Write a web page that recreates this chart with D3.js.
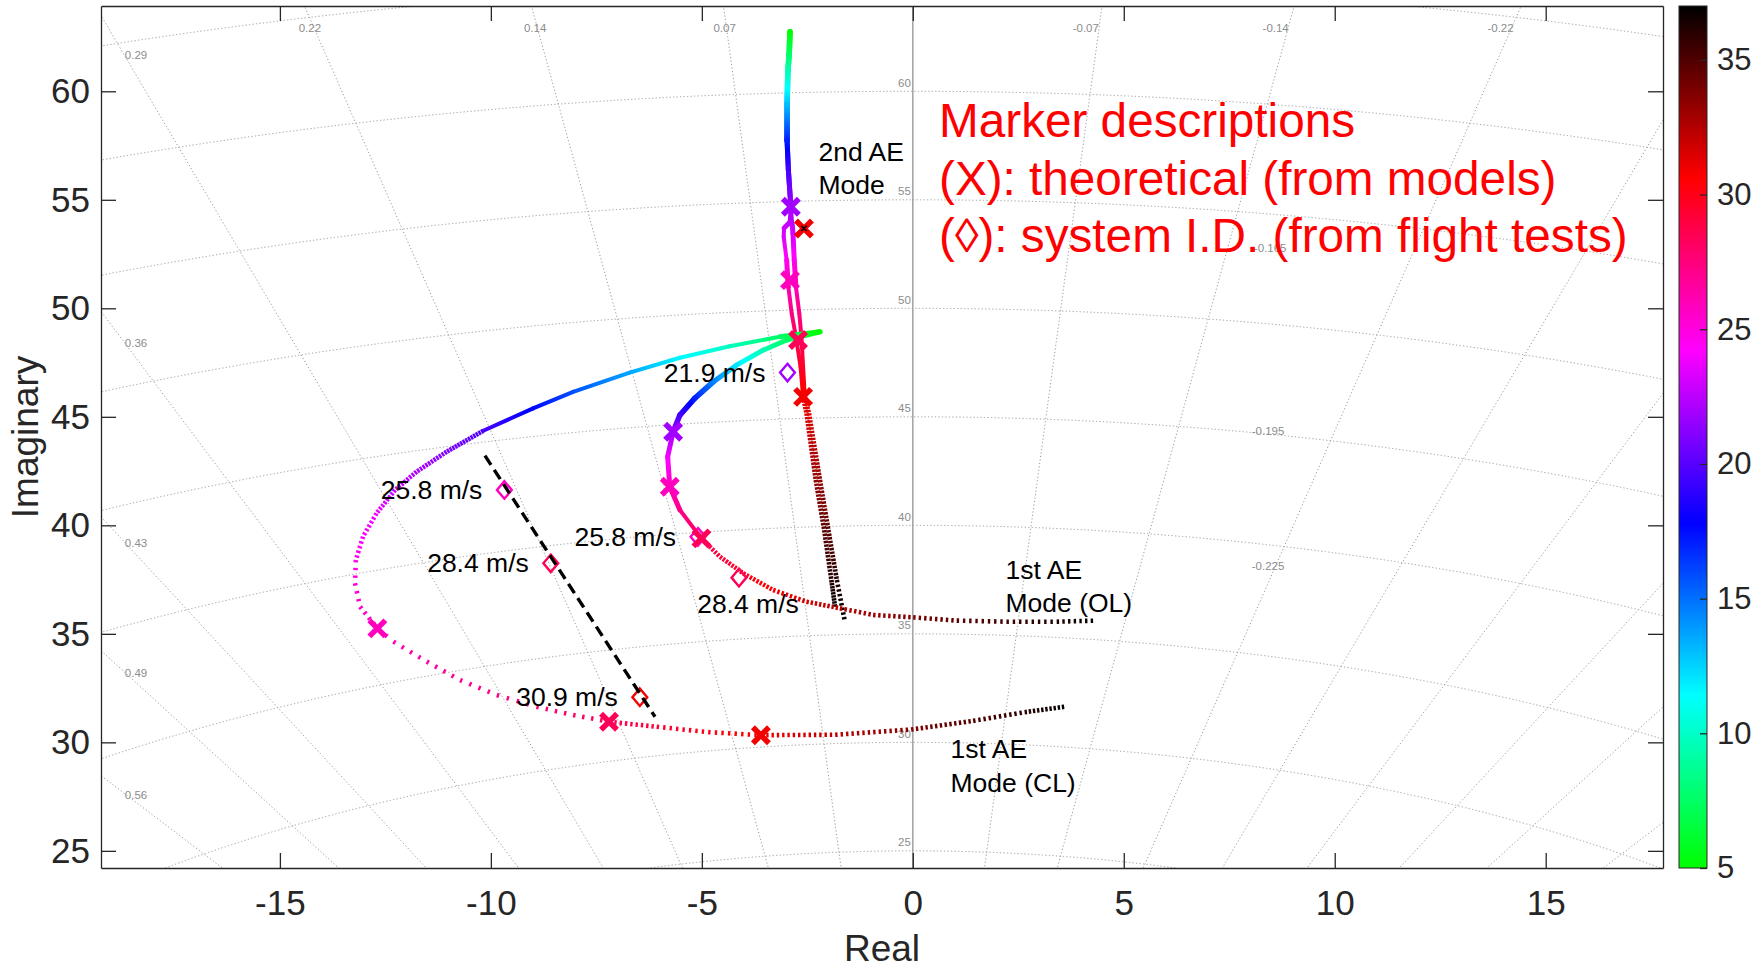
<!DOCTYPE html>
<html>
<head>
<meta charset="utf-8">
<script src="https://cdn.jsdelivr.net/npm/d3@7"></script>
<style>
  html, body { margin: 0; padding: 0; background: #fff; }
  svg { display: block; font-family: "Liberation Sans", Arial, Helvetica, sans-serif; }
</style>
</head>
<body>
<svg id="chart" width="1763" height="969"></svg>
<script>
// ---------------- data ----------------
const realTicks  = [-15, -10, -5, 0, 5, 10, 15];
const imagTicks  = [25, 30, 35, 40, 45, 50, 55, 60];
const speedTicks = [5, 10, 15, 20, 25, 30, 35];
const speedRange = [5, 37];
const sweepStep  = 0.1;   // airspeed increment between computed roots (m/s)

// colormap control points (airspeed -> colour)
const cmapSpeeds = [5, 11.4, 17.8, 24.2, 30.6, 37];
const cmapColors = ["#00ff00", "#00ffff", "#0000ff", "#ff00ff", "#ff0000", "#000000"];

// s-plane grid
const dampingRatios = [0.07, 0.14, 0.22, 0.29, 0.36, 0.43, 0.49, 0.56];
const naturalFreqs  = [25, 30, 35, 40, 45, 50, 55, 60, 65];
const freqLabels    = [25, 30, 35, 40, 45, 50, 55, 60];
const dampLabelText = ["0.29", "0.36", "0.43", "0.49", "0.56", "0.22", "0.14", "0.07",
                       "-0.07", "-0.14", "-0.22", "-0.165", "-0.195", "-0.225"];
const dampLabelRe   = [-18.41, -18.41, -18.41, -18.41, -18.41, -14.29, -8.95, -4.46,
                       4.10, 8.60, 13.93, 8.47, 8.42, 8.42];
const dampLabelIm   = [61.68, 48.42, 39.19, 33.21, 27.56, 62.93, 62.93, 62.93,
                       62.93, 62.93, 62.93, 52.78, 44.35, 38.15];

// root loci vs airspeed: [real, imag, airspeed m/s]
const mode2OL = [
  [-2.91, 62.74, 5.0], [-2.93, 61.70, 7.5], [-2.96, 60.97, 9.5], [-2.98, 59.40, 13.0],
  [-2.98, 57.75, 17.0], [-2.95, 56.40, 19.5], [-2.89, 54.68, 21.9], [-2.86, 53.90, 22.6],
  [-2.84, 53.45, 23.1], [-2.81, 52.22, 24.5], [-2.77, 50.99, 26.0], [-2.69, 49.76, 27.3],
  [-2.64, 48.69, 28.4], [-2.60, 47.30, 29.6], [-2.56, 45.92, 30.9], [-2.46, 45.16, 31.4],
  [-2.20, 42.09, 33.3], [-2.00, 39.78, 34.7], [-1.80, 37.48, 36.1], [-1.61, 35.56, 37.0]
];
const mode2CL = [
  [-2.91, 62.74, 5.0], [-2.93, 61.70, 7.5], [-2.96, 60.97, 9.5], [-2.98, 59.40, 13.0],
  [-2.98, 57.75, 17.0], [-2.95, 56.40, 19.5], [-2.89, 54.68, 21.9], [-2.92, 53.95, 22.6],
  [-3.05, 53.70, 23.0], [-3.06, 53.30, 23.4], [-2.99, 52.22, 24.5], [-2.95, 50.99, 26.0],
  [-2.87, 49.76, 27.3], [-2.77, 48.69, 28.4], [-2.66, 47.30, 29.6], [-2.60, 45.92, 30.9],
  [-2.52, 45.16, 31.4], [-2.30, 42.09, 33.3], [-2.10, 39.78, 34.7], [-1.93, 37.48, 36.1],
  [-1.84, 36.22, 37.0]
];
const mode1OL = [
  [-2.20, 48.92, 5.0], [-2.99, 48.54, 7.5], [-3.55, 48.07, 9.5], [-4.18, 47.38, 12.0],
  [-4.73, 46.61, 14.5], [-5.17, 45.85, 17.0], [-5.52, 45.08, 19.5], [-5.68, 44.31, 21.9],
  [-5.81, 43.16, 23.9], [-5.76, 41.78, 25.8], [-5.52, 40.71, 27.1], [-5.01, 39.40, 28.4],
  [-4.57, 38.55, 29.1], [-4.02, 37.79, 29.9], [-3.31, 37.02, 30.8], [-2.52, 36.48, 31.6],
  [-1.73, 36.18, 32.4], [-0.94, 35.87, 33.1], [0.01, 35.76, 33.9], [1.04, 35.61, 34.7],
  [2.22, 35.56, 35.5], [3.41, 35.56, 36.3], [4.35, 35.61, 37.0]
];
const mode1CL = [
  [-2.20, 48.92, 5.0], [-3.15, 48.69, 7.5], [-4.34, 48.25, 9.8], [-5.52, 47.72, 11.6],
  [-6.71, 47.04, 13.6], [-8.05, 46.15, 15.8], [-9.00, 45.39, 17.6], [-10.18, 44.36, 19.6],
  [-11.05, 43.39, 21.0], [-11.76, 42.47, 22.1], [-12.27, 41.63, 22.9], [-12.71, 40.55, 23.7],
  [-13.03, 39.48, 24.3], [-13.20, 38.40, 24.8], [-13.22, 37.33, 25.1], [-13.10, 36.25, 25.4],
  [-12.69, 35.25, 25.8], [-12.31, 34.64, 26.0], [-11.52, 33.72, 26.4], [-10.73, 32.87, 26.8],
  [-9.86, 32.18, 27.2], [-8.92, 31.64, 27.6], [-8.05, 31.26, 28.0], [-7.20, 30.95, 28.4],
  [-6.07, 30.72, 29.3], [-4.85, 30.47, 30.1], [-3.60, 30.33, 30.9], [-1.84, 30.35, 32.3],
  [-0.04, 30.59, 33.7], [1.43, 30.99, 35.0], [2.65, 31.39, 36.0], [3.63, 31.65, 37.0]
];
const strayRoot = [[-2.58, 53.68, 37.0]];

// theoretical (model) roots at the test airspeeds
const theoryRe    = [-2.89, -2.91, -2.72, -2.60, -2.58, -5.68, -5.76, -5.01, -12.69, -7.20, -3.60];
const theoryIm    = [54.68, 51.30, 48.54, 45.92, 53.68, 44.31, 41.78, 39.40, 35.25, 30.95, 30.33];
const theorySpeed = [21.9, 25.8, 28.4, 30.9, 30.9, 21.9, 25.8, 28.4, 25.8, 28.4, 30.9];

// identified roots from flight tests
const flightRe     = [-2.97, -9.68, -8.58, -6.47, -5.09, -4.12];
const flightIm     = [47.04, 41.63, 38.25, 32.08, 39.47, 37.59];
const flightSpeed  = [21.9, 25.8, 28.4, 30.9, 25.8, 28.4];
const flightLabels = ["21.9 m/s", "25.8 m/s", "28.4 m/s", "30.9 m/s", "25.8 m/s", "28.4 m/s"];
const flightLabelSide = ["left", "left", "left", "left", "left", "below"];

// trend through the closed-loop flight-test roots
const trendRe = [-10.14, -6.11];
const trendIm = [43.21, 31.18];

// ---------------- layout ----------------
const svg = d3.select("#chart");
const plot = { left: 101, right: 1663, top: 6, bottom: 868 };
const cbar = { left: 1679, right: 1707 };
const ink = "#262626";

const x = d3.scaleLinear().domain([-19.24, 17.78]).range([plot.left, plot.right]);
const y = d3.scaleLinear().domain([24.21, 63.93]).range([plot.bottom, plot.top]);
const cmap = d3.scaleLinear().domain(cmapSpeeds).range(cmapColors).interpolate(d3.interpolateRgb).clamp(true);

const defs = svg.append("defs");
defs.append("clipPath").attr("id", "plotClip").append("rect")
  .attr("x", plot.left).attr("y", plot.top)
  .attr("width", plot.right - plot.left).attr("height", plot.bottom - plot.top);

// ---------------- grid ----------------
const grid = svg.append("g").attr("clip-path", "url(#plotClip)");
const gridStyle = sel => sel.attr("fill", "none").attr("stroke", "#9a9a9a")
  .attr("stroke-width", 1).attr("stroke-dasharray", "1.2,2.3");

naturalFreqs.forEach(wn => {
  grid.append("ellipse")
    .attr("cx", x(0)).attr("cy", y(0))
    .attr("rx", x(wn) - x(0)).attr("ry", y(0) - y(wn))
    .call(gridStyle);
});
dampingRatios.forEach(z => {
  const k = z / Math.sqrt(1 - z * z);
  [-1, 1].forEach(side => {
    grid.append("line")
      .attr("x1", x(0)).attr("y1", y(0))
      .attr("x2", x(side * k * 200)).attr("y2", y(200))
      .call(gridStyle);
  });
});
// imaginary axis
grid.append("line")
  .attr("x1", x(0)).attr("x2", x(0)).attr("y1", plot.top).attr("y2", plot.bottom)
  .attr("stroke", "#a6a6a6").attr("stroke-width", 1.6);

// grid labels
const gridLabels = svg.append("g").attr("font-size", 11.5).attr("fill", "#8c8c8c");
dampLabelText.forEach((t, i) => {
  gridLabels.append("text")
    .attr("x", x(dampLabelRe[i])).attr("y", y(dampLabelIm[i]))
    .attr("dy", "0.35em").attr("text-anchor", "middle").text(t);
});
freqLabels.forEach(wn => {
  gridLabels.append("text")
    .attr("x", x(0) - 2).attr("y", y(wn) - 4.5)
    .attr("text-anchor", "end").text(wn);
});

// ---------------- root loci ----------------
const loci = svg.append("g").attr("clip-path", "url(#plotClip)");
let gradId = 0;
function drawBranch(pts) {
  for (let i = 0; i < pts.length - 1; i++) {
    const [r1, m1, v1] = pts[i], [r2, m2, v2] = pts[i + 1];
    const x1 = x(r1), y1 = y(m1), x2 = x(r2), y2 = y(m2);
    const len = Math.hypot(x2 - x1, y2 - y1);
    const spacing = len / Math.max(1, Math.abs(v2 - v1) / sweepStep);
    // colour gradient along the segment following the airspeed colormap
    const id = "seg" + (gradId++);
    const grad = defs.append("linearGradient").attr("id", id)
      .attr("gradientUnits", "userSpaceOnUse")
      .attr("x1", x1).attr("y1", y1).attr("x2", x2).attr("y2", y2);
    const stops = [0];
    cmapSpeeds.forEach(s => { if (s > Math.min(v1, v2) && s < Math.max(v1, v2)) stops.push((s - v1) / (v2 - v1)); });
    stops.push(1);
    stops.sort((a, b) => a - b).forEach(f => {
      grad.append("stop").attr("offset", f).attr("stop-color", cmap(v1 + f * (v2 - v1)));
    });
    const seg = loci.append("line")
      .attr("x1", x1).attr("y1", y1).attr("x2", x2).attr("y2", y2)
      .attr("stroke", `url(#${id})`);
    if (spacing < 3) {
      // closely packed roots merge into a solid band
      const w = spacing < 1.0 ? 5.5 : spacing < 2.0 ? 5 : 4;
      seg.attr("stroke-width", w).attr("stroke-linecap", "round");
    } else {
      seg.attr("stroke-width", 4.6).attr("stroke-linecap", "butt")
        .attr("stroke-dasharray", `2.4,${(spacing - 2.4).toFixed(2)}`);
    }
  }
}
[mode2CL, mode2OL, mode1OL, mode1CL].forEach(drawBranch);

// ---------------- markers ----------------
const marks = svg.append("g").attr("clip-path", "url(#plotClip)");
const diamond = (hw, hh) => `M0,${-hh}L${hw},0L0,${hh}L${-hw},0Z`;
const cross = s => `M${-s},${-s}L${s},${s}M${-s},${s}L${s},${-s}`;

flightRe.forEach((re, i) => {
  marks.append("path")
    .attr("transform", `translate(${x(re)},${y(flightIm[i])})`)
    .attr("d", diamond(7.4, 8.8))
    .attr("fill", "none").attr("stroke", cmap(flightSpeed[i])).attr("stroke-width", 2.4);
});

marks.append("line")
  .attr("x1", x(trendRe[0])).attr("y1", y(trendIm[0]))
  .attr("x2", x(trendRe[1])).attr("y2", y(trendIm[1]))
  .attr("stroke", "#000").attr("stroke-width", 3.4).attr("stroke-dasharray", "11,6");

theoryRe.forEach((re, i) => {
  marks.append("path")
    .attr("transform", `translate(${x(re)},${y(theoryIm[i])})`)
    .attr("d", cross(8))
    .attr("fill", "none").attr("stroke", cmap(theorySpeed[i])).attr("stroke-width", 5.5);
});
strayRoot.forEach(([re, im, v]) => {
  marks.append("path")
    .attr("transform", `translate(${x(re)},${y(im)})`)
    .attr("d", cross(2.6))
    .attr("fill", "none").attr("stroke", cmap(v)).attr("stroke-width", 1.4);
});

// ---------------- text annotations ----------------
const notes = svg.append("g").attr("font-size", 26.5).attr("fill", "#000");
flightLabels.forEach((t, i) => {
  const px = x(flightRe[i]), py = y(flightIm[i]);
  if (flightLabelSide[i] === "left") {
    notes.append("text").attr("x", px - 22).attr("y", py + 9).attr("text-anchor", "end").text(t);
  } else {
    notes.append("text").attr("x", px + 9).attr("y", py + 35).attr("text-anchor", "middle").text(t);
  }
});

function multiline(g, re, im, lines, step) {
  const t = g.append("text").attr("x", x(re)).attr("y", y(im));
  lines.forEach((l, i) => t.append("tspan").attr("x", x(re)).attr("dy", i === 0 ? 0 : step).text(l));
}
multiline(notes, -2.235, 56.80, ["2nd AE", "Mode"], 33.5);
multiline(notes, 2.197, 37.505, ["1st AE", "Mode (OL)"], 33);
multiline(notes, 0.894, 29.28, ["1st AE", "Mode (CL)"], 34);

const legendNote = svg.append("g").attr("font-size", 47.7).attr("fill", "#ff0000");
multiline(legendNote, 0.621, 57.90,
  ["Marker descriptions", "(X): theoretical (from models)", "(\u25CA): system I.D. (from flight tests)"], 57.7);

// ---------------- axes ----------------
const plainNum = d => String(d);
function styleAxis(g, fs) {
  g.selectAll("path.domain").attr("stroke", ink).attr("stroke-width", 1.3);
  g.selectAll(".tick line").attr("stroke", ink).attr("stroke-width", 1.3);
  g.selectAll(".tick text").attr("fill", ink).attr("font-size", fs)
    .attr("font-family", "'Liberation Sans', Arial, Helvetica, sans-serif");
}
svg.append("g").attr("transform", `translate(0,${plot.bottom})`)
  .call(d3.axisBottom(x).tickValues(realTicks).tickFormat(plainNum)
    .tickSizeInner(-15).tickSizeOuter(0).tickPadding(22))
  .call(g => styleAxis(g, 35));
svg.append("g").attr("transform", `translate(0,${plot.top})`)
  .call(d3.axisTop(x).tickValues(realTicks).tickSizeInner(-15).tickSizeOuter(0).tickFormat(""))
  .call(g => styleAxis(g, 35));
svg.append("g").attr("transform", `translate(${plot.left},0)`)
  .call(d3.axisLeft(y).tickValues(imagTicks).tickFormat(plainNum)
    .tickSizeInner(-15).tickSizeOuter(0).tickPadding(11))
  .call(g => styleAxis(g, 35));
svg.append("g").attr("transform", `translate(${plot.right},0)`)
  .call(d3.axisRight(y).tickValues(imagTicks).tickSizeInner(-15).tickSizeOuter(0).tickFormat(""))
  .call(g => styleAxis(g, 35));

svg.append("text").attr("x", (plot.left + plot.right) / 2).attr("y", 961)
  .attr("text-anchor", "middle").attr("font-size", 37).attr("fill", ink).text("Real");
svg.append("text").attr("transform", `translate(38,${(plot.top + plot.bottom) / 2}) rotate(-90)`)
  .attr("text-anchor", "middle").attr("font-size", 37).attr("fill", ink).text("Imaginary");

// ---------------- colorbar ----------------
const cbY = d3.scaleLinear().domain(speedRange).range([plot.bottom, plot.top]);
const cbGrad = defs.append("linearGradient").attr("id", "cbGrad")
  .attr("x1", 0).attr("y1", 1).attr("x2", 0).attr("y2", 0);
cmapSpeeds.forEach(s => {
  cbGrad.append("stop").attr("offset", (s - speedRange[0]) / (speedRange[1] - speedRange[0]))
    .attr("stop-color", cmap(s));
});
svg.append("rect")
  .attr("x", cbar.left).attr("y", cbY(speedRange[1]))
  .attr("width", cbar.right - cbar.left).attr("height", cbY(speedRange[0]) - cbY(speedRange[1]))
  .attr("fill", "url(#cbGrad)").attr("stroke", ink).attr("stroke-width", 1);
svg.append("g").attr("transform", `translate(${cbar.right},0)`)
  .call(d3.axisRight(cbY).tickValues(speedTicks).tickFormat(plainNum)
    .tickSizeInner(-7).tickSizeOuter(0).tickPadding(10))
  .call(g => { g.select("path.domain").remove(); styleAxis(g, 31); });
</script>
</body>
</html>
